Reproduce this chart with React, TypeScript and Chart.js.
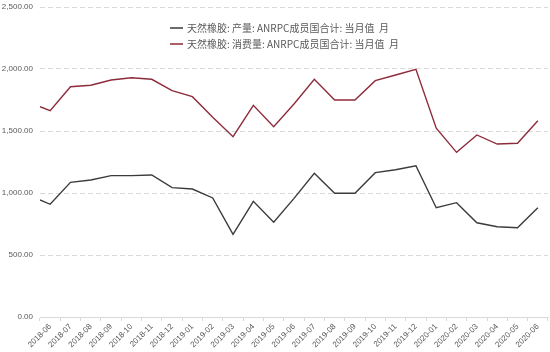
import React, { useEffect, useRef } from "react";
import { Chart, registerables } from "chart.js";

Chart.register(...registerables);

const months = [
  "2018-06", "2018-07", "2018-08", "2018-09", "2018-10", "2018-11", "2018-12",
  "2019-01", "2019-02", "2019-03", "2019-04", "2019-05", "2019-06", "2019-07",
  "2019-08", "2019-09", "2019-10", "2019-11", "2019-12", "2020-01", "2020-02",
  "2020-03", "2020-04", "2020-05", "2020-06",
];

// first value is a lead-in point drawn at the left edge of the axis
const production = [
  944, 909, 1086, 1105, 1140, 1140, 1145, 1043, 1032, 960, 667, 933, 764,
  957, 1159, 998, 998, 1164, 1188, 1220, 881, 922, 760, 728, 720, 881,
];
const consumption = [
  1696, 1664, 1857, 1869, 1911, 1930, 1917, 1825, 1777, 1610, 1454, 1707, 1535,
  1718, 1917, 1750, 1750, 1906, 1952, 1998, 1522, 1328, 1468, 1395, 1401, 1583,
];

const seriesNames = [
  "天然橡胶: 产量: ANRPC成员国合计: 当月值  月",
  "天然橡胶: 消费量: ANRPC成员国合计: 当月值  月",
];
const seriesColors = ["#3b3b3b", "#8e2b3b"];

const yMin = 0;
const yMax = 2500;
const yStep = 500;

const toPoints = (vals: number[]) =>
  vals.map((v, i) => ({ x: i === 0 ? -0.5 : i - 1, y: v }));

const legendPlugin = {
  id: "customLegend",
  afterDraw(chart: any) {
    const ctx = chart.ctx;
    ctx.save();
    ctx.font = '10px "Noto Sans CJK SC", sans-serif';
    ctx.textBaseline = "middle";
    chart.data.datasets.forEach((ds: any, i: number) => {
      const y = 28 + i * 16;
      ctx.strokeStyle = ds.borderColor;
      ctx.lineWidth = 1.5;
      ctx.beginPath();
      ctx.moveTo(170, y);
      ctx.lineTo(183, y);
      ctx.stroke();
      ctx.fillStyle = "#595959";
      ctx.fillText(ds.label, 187, y);
    });
    ctx.restore();
  },
};

export default function App() {
  const ref = useRef<HTMLCanvasElement>(null);
  useEffect(() => {
    document.body.style.margin = "0";
    const chart = new Chart(ref.current!, {
      type: "line",
      data: {
        datasets: [
          {
            label: seriesNames[0],
            data: toPoints(production),
            borderColor: seriesColors[0],
            borderWidth: 1.4,
            pointRadius: 0,
            tension: 0,
            xAxisID: "x",
          },
          {
            label: seriesNames[1],
            data: toPoints(consumption),
            borderColor: seriesColors[1],
            borderWidth: 1.4,
            pointRadius: 0,
            tension: 0,
            xAxisID: "x",
          },
        ],
      },
      options: {
        responsive: false,
        animation: false,
        layout: { padding: { top: 7, right: 2, left: 0, bottom: 0 } },
        plugins: { legend: { display: false }, tooltip: { enabled: false } },
        scales: {
          x: {
            type: "linear",
            display: false,
            min: -0.5,
            max: months.length - 0.5,
          },
          x2: {
            type: "category",
            position: "bottom",
            labels: months,
            offset: true,
            grid: {
              offset: true,
              drawOnChartArea: false,
              drawTicks: true,
              tickLength: 4,
              color: "#d9d9d9",
            },
            border: { color: "#d9d9d9" },
            ticks: {
              minRotation: 45,
              maxRotation: 45,
              autoSkip: false,
              padding: 1,
              color: "#595959",
              font: { size: 8, family: "'Liberation Sans', Arial, sans-serif" },
            },
            afterFit: (s: any) => {
              s.height = 35;
              s.paddingTop = 0;
              s.paddingBottom = 0;
              s.paddingLeft = 0;
              s.paddingRight = 0;
            },
          },
          y: {
            min: yMin,
            max: yMax,
            ticks: {
              stepSize: yStep,
              padding: 7,
              color: "#595959",
              font: { size: 8, family: "'Liberation Sans', Arial, sans-serif" },
              callback: (v: any) =>
                Number(v).toLocaleString("en-US", {
                  minimumFractionDigits: 2,
                  maximumFractionDigits: 2,
                }),
            },
            grid: {
              color: "#d9d9d9",
              drawTicks: false,
            },
            border: { display: false, dash: [5, 3] },
            afterFit: (s: any) => {
              s.width = 40;
              s.paddingTop = 0;
              s.paddingBottom = 0;
            },
          },
        },
      },
      plugins: [legendPlugin],
    });
    return () => chart.destroy();
  }, []);
  return (
    <div style={{ width: 550, height: 352 }}>
      <canvas ref={ref} width={550} height={352} />
    </div>
  );
}
